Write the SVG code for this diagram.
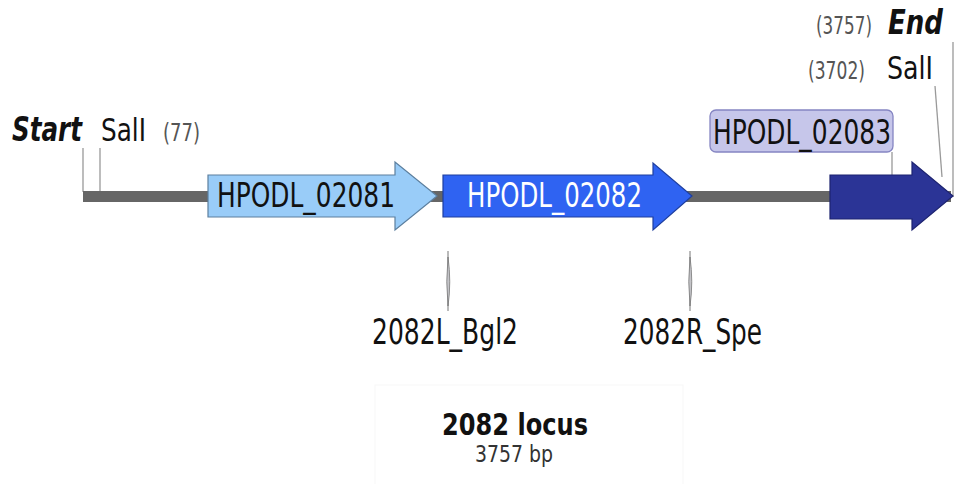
<svg xmlns="http://www.w3.org/2000/svg" width="957" height="484" viewBox="0 0 957 484">
<style>
text{font-family:"DejaVu Sans","Liberation Sans",sans-serif;fill:#111;}
.lbl{font-size:34px;}
.num{font-size:24px;fill:#555;}
.bi{font-size:33px;font-weight:bold;font-style:italic;}
.site{font-size:32px;}
.lead{stroke:#999;stroke-width:1.3;fill:none;}
.primer{fill:#c4c4c8;stroke:#777;stroke-width:0.8;}
</style>
<rect width="957" height="484" fill="#fff"/>
<rect x="375" y="385" width="308" height="110" fill="none" stroke="#f7f7f7" stroke-width="1"/>
<g id="connectors">
<line class="lead" x1="83" y1="148" x2="83" y2="192"/>
<line class="lead" x1="100" y1="148" x2="100" y2="192"/>
<line class="lead" x1="892" y1="152" x2="892" y2="176"/>
<line class="lead" x1="935" y1="86" x2="942" y2="177"/>
<line class="lead" x1="953" y1="42" x2="953" y2="197"/>
</g>
<g id="backbone"><rect x="83" y="191" width="868" height="11" fill="#666"/></g>
<g id="start"><text class="bi" x="12" y="141" textLength="70" lengthAdjust="spacingAndGlyphs">Start</text></g>
<g id="sali77"><text class="site" x="101" y="141" textLength="45" lengthAdjust="spacingAndGlyphs">SalI</text><text class="num" x="163" y="141" textLength="37" lengthAdjust="spacingAndGlyphs">(77)</text></g>
<g id="hpodl02081">
<path d="M208,175 H395 V162 L437,196 L395,230 V217 H208 Z" fill="#99ccf8" stroke="#5c7f9e" stroke-width="1.2"/>
<text class="lbl" x="217" y="207" textLength="178" lengthAdjust="spacingAndGlyphs">HPODL_02081</text>
</g>
<g id="hpodl02082">
<path d="M443,175 H653 V163 L692,196 L653,230 V217 H443 Z" fill="#2f63f2" stroke="#1f3f9e" stroke-width="1.2"/>
<text class="lbl" x="467" y="207" textLength="175" lengthAdjust="spacingAndGlyphs" style="fill:#fff">HPODL_02082</text>
</g>
<g id="hpodl02083">
<path d="M830,175 H912 V162 L953,196 L912,230 V219 H830 Z" fill="#2b3496" stroke="#1d2370" stroke-width="1.2"/>
<rect x="710" y="110" width="183" height="42" rx="6" fill="#c6c6ea" stroke="#8585c2" stroke-width="1.3"/>
<text class="lbl" x="713" y="144" textLength="178" lengthAdjust="spacingAndGlyphs">HPODL_02083</text>
</g>
<g id="end"><text class="num" x="816" y="34" textLength="56" lengthAdjust="spacingAndGlyphs">(3757)</text><text class="bi" x="888" y="34" font-size="31" textLength="55" lengthAdjust="spacingAndGlyphs">End</text></g>
<g id="sali3702"><text class="num" x="808" y="79" textLength="57" lengthAdjust="spacingAndGlyphs">(3702)</text><text class="site" x="887" y="79" textLength="46" lengthAdjust="spacingAndGlyphs">SalI</text></g>
<g id="primerL">
<line x1="448" y1="251" x2="448" y2="311" stroke="#777" stroke-width="1"/>
<path class="primer" d="M448,257 Q451.5,282 448,306 Q445.5,282 448,257 Z"/>
<text x="372" y="344" style="font-size:36px" textLength="146" lengthAdjust="spacingAndGlyphs">2082L_Bgl2</text>
</g>
<g id="primerR">
<line x1="690" y1="251" x2="690" y2="311" stroke="#777" stroke-width="1"/>
<path class="primer" d="M690,257 Q693.5,282 690,306 Q687.5,282 690,257 Z"/>
<text x="623" y="344" style="font-size:36px" textLength="139" lengthAdjust="spacingAndGlyphs">2082R_Spe</text>
</g>
<g id="title">
<text x="442" y="435" style="font-size:31px;font-weight:bold" textLength="146" lengthAdjust="spacingAndGlyphs">2082 locus</text>
<text x="475" y="462" style="font-size:23px;fill:#333" textLength="78" lengthAdjust="spacingAndGlyphs">3757 bp</text>
</g>
</svg>
